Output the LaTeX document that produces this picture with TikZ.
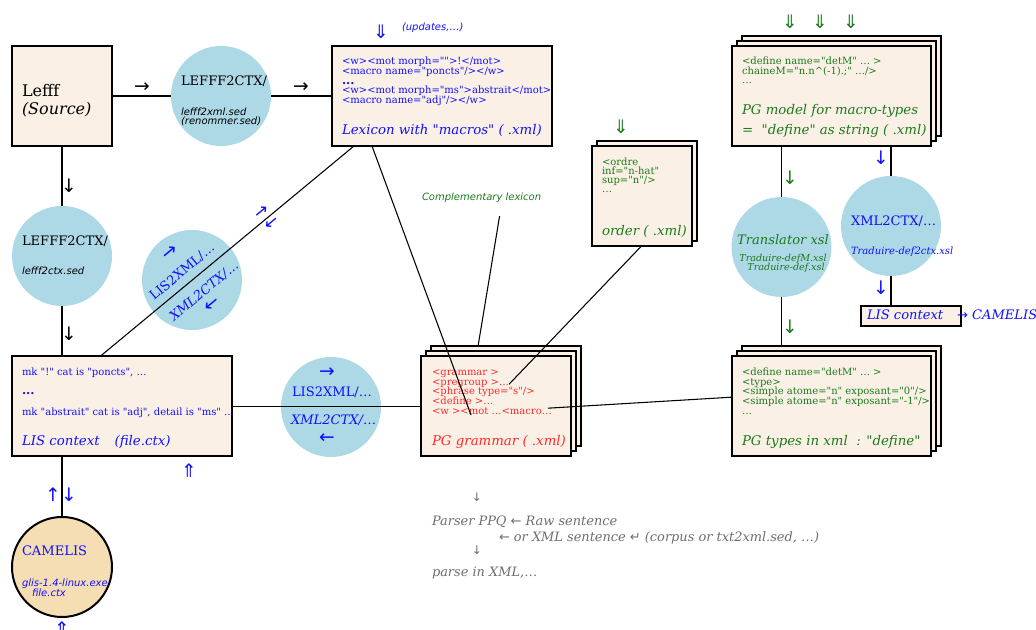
\documentclass[tikz,border=0pt]{standalone}
\usepackage{fontspec}
\setmainfont{DejaVu Serif}[Ligatures=TeXOff]
\setsansfont{DejaVu Sans}[Ligatures=TeXOff]
\usepackage{xcolor}
\definecolor{cpaper}{HTML}{FAF0E6}
\definecolor{ctool}{HTML}{ADD8E6}
\definecolor{ccamel}{HTML}{F5DEB3}
\definecolor{dgreen}{HTML}{1B7A1B}
\definecolor{cblue}{HTML}{1010FF}
\definecolor{cred}{HTML}{FF2A2A}
\definecolor{cnote}{HTML}{6E6E6E}
\usetikzlibrary{shadows}

\newcommand{\fsz}[1]{\fontsize{#1}{#1}\selectfont}
\newcommand{\arw}[1]{{\sffamily\upshape #1}}

\begin{document}
\begin{tikzpicture}[x=0.75pt, y=-0.75pt,
  every node/.style={inner sep=0pt, outer sep=0pt},
  doc/.style={draw, line width=1.5pt, fill=cpaper},
  stack/.style={doc, copy shadow={shadow xshift=7.5pt, shadow yshift=7.5pt}, copy shadow={shadow xshift=3.75pt, shadow yshift=3.75pt}},
  proc/.style={circle, fill=ctool, minimum size=75pt},
  wire/.style={line width=0.8pt},
  txt/.style={anchor=base west},
  codeln/.style={txt, font=\fsz{7.5}},
  boxtitle/.style={txt, font=\fsz{10}\itshape},
  procname/.style={txt, font=\fsz{9.8}},
  smallit/.style={txt, font=\fsz{7.5}\sffamily\itshape},
  glyph/.style={font=\fsz{14}\sffamily}]
  \useasboundingbox (0,0) rectangle (1036,630);

  % Lefff source
  \node[doc, minimum width=75pt, minimum height=75pt] (lefff) at (61.5,96) {};
  \node[txt, font=\fsz{12}] (lefffname) at (22,97) {Lefff};
  \node[txt, font=\fsz{12}\itshape] (lefffsrc) at (22,115) {(Source)};

  % LEFFF2CTX towards the lexicon
  \node[proc] (l2c) at (221,96) {};
  \node[procname] (l2cname) at (181,86) {LEFFF2CTX/};
  \node[smallit] (l2cf1) at (181,116) {lefff2xml.sed};
  \node[smallit] (l2cf2) at (181,125) {(renommer.sed)};
  \node[glyph] (arr1) at (142,88) {→};
  \node[glyph] (arr2) at (301,88) {→};

  % Lexicon with macros
  \node[doc, minimum width=165pt, minimum height=75pt] (lexicon) at (442,96) {};
  \foreach \yb/\lbl [count=\i] in {65/{<w><mot morph="">!</mot>}, 75/{<macro name="poncts"/></w>}, 94/{<w><mot morph="ms">abstrait</mot>}, 104/{<macro name="adj"/></w>}}
    \node[codeln, text=cblue] (lexl-\i) at (342,\yb) {\lbl};
  \node[txt, font=\fsz{9}\bfseries, text=cblue] (lexdots) at (342,85) {...};
  \node[boxtitle, text=cblue] (lextitle) at (342,135) {Lexicon with "macros" ( .xml)};
  \node[glyph, text=cblue] (lexin) at (381,32) {⇓};
  \node[smallit, text=cblue] (updates) at (402,31) {(updates,…)};

  % PG model for macro-types
  \node[stack, minimum width=149.25pt, minimum height=75pt] (pgmodel) at (831.5,96) {};
  \foreach \yb/\lbl [count=\i] in {65/{<define name="detM" … >}, 75/{chaineM="n.n\textasciicircum(-1).;" …/>}, 84/{…}}
    \node[codeln, text=dgreen] (pgml-\i) at (742,\yb) {\lbl};
  \node[boxtitle, text=dgreen] (pgmtitle1) at (742,115) {PG model for macro-types};
  \node[boxtitle, text=dgreen] (pgmtitle2) at (742,135) {=\ \ "define" as string ( .xml)};
  \foreach \xb [count=\i] in {790,820,851}
    \node[glyph, text=dgreen] (pgmin-\i) at (\xb,22) {⇓};

  % order file
  \node[doc, copy shadow={shadow xshift=3.75pt, shadow yshift=3.75pt}, minimum width=75pt, minimum height=75pt] (order) at (641.5,196) {};
  \foreach \yb/\lbl [count=\i] in {166/{<ordre}, 175/{inf="n-hat"}, 184/{sup="n"/>}, 193/{…}}
    \node[codeln, text=dgreen] (ordl-\i) at (602,\yb) {\lbl};
  \node[boxtitle, text=dgreen] (ordtitle) at (602,236) {order ( .xml)};
  \node[glyph, text=dgreen] (ordin) at (621,127) {⇓};

  \node[smallit, text=dgreen] (comp) at (422,201) {Complementary lexicon};

  % Translator xsl
  \node[proc] (trans) at (781.5,247) {};
  \node[font=\fsz{9.8}\itshape, text=dgreen, anchor=base] (transname) at (783,245) {Translator xsl};
  \node[font=\fsz{7.2}\itshape, text=dgreen, anchor=base] (transf1) at (783,262) {Traduire-defM.xsl};
  \node[font=\fsz{7.2}\itshape, text=dgreen, anchor=base] (transf2) at (786,271) {Traduire-def.xsl};
  \node[glyph, text=dgreen] (transin) at (790,178) {↓};
  \node[glyph, text=dgreen] (transout) at (790,327) {↓};

  % XML2CTX for the types
  \node[proc] (x2c) at (891,226) {};
  \node[procname, text=cblue] (x2cname) at (851,226) {XML2CTX/…};
  \node[txt, font=\fsz{7.5}\itshape, text=cblue] (x2cf) at (851,255) {Traduire-def2ctx.xsl};
  \node[glyph, text=cblue] (x2cin) at (881,158) {↓};
  \node[glyph, text=cblue] (x2cout) at (881,288) {↓};
  \node[doc, minimum width=75pt, minimum height=15pt] (lisctx) at (911,316) {};
  \node[txt, font=\fsz{9.8}\itshape, text=cblue] (lisctxname) at (867,320) {LIS context};
  \node[txt, font=\fsz{9.8}\itshape, text=cblue] (tocamelis) at (957,320) {\arw{→} CAMELIS};

  % PG types in xml
  \node[stack, minimum width=149.25pt, minimum height=75pt] (ptypes) at (831.5,406.5) {};
  \foreach \yb/\lbl [count=\i] in {376/{<define name="detM" … >}, 386/{<type>}, 395/{<simple atome="n" exposant="0"/>}, 405/{<simple atome="n" exposant="-1"/>}, 415/{…}}
    \node[codeln, text=dgreen] (ptyl-\i) at (742,\yb) {\lbl};
  \node[boxtitle, text=dgreen] (ptytitle) at (742,446) {PG types in xml\ \ : "define"};

  % PG grammar
  \node[stack, minimum width=112.5pt, minimum height=75pt] (pggram) at (496,406.5) {};
  \foreach \yb/\lbl [count=\i] in {376/{<grammar >}, 386/{<pregroup >…}, 395/{<phrase type="s"/>}, 405/{<define >…}, 415/{<w ><mot …<macro…}}
    \node[codeln, text=cred] (gram-\i) at (432,\yb) {\lbl};
  \node[boxtitle, text=cred] (gramtitle) at (432,446) {PG grammar ( .xml)};

  % LIS context file
  \node[doc, minimum width=165pt, minimum height=75pt] (lis) at (122,406.5) {};
  \node[codeln, text=cblue] (lisl-1) at (22,376) {mk "!" cat is "poncts", …};
  \node[txt, font=\fsz{9}\bfseries, text=cblue] (lisdots) at (22,395) {...};
  \node[codeln, text=cblue] (lisl-2) at (22,416) {mk "abstrait" cat is "adj", detail is "ms" …};
  \node[boxtitle, text=cblue] (listitle) at (22,446) {LIS context\hspace{8pt} (file.ctx)};
  \node[glyph, text=cblue] (lisin) at (189,471) {⇑};

  % LEFFF2CTX towards the context
  \node[proc] (l2c2) at (62,256) {};
  \node[procname] (l2c2name) at (22,246) {LEFFF2CTX/};
  \node[smallit] (l2c2f) at (22,275) {lefff2ctx.sed};
  \node[glyph] (arr3) at (69,186) {↓};
  \node[glyph] (arr4) at (69,334) {↓};

  % LIS2XML / XML2CTX between context and lexicon
  \node[proc] (l2xa) at (192,280) {};
  \node[font=\fsz{9.8}, text=cblue, rotate=40] (l2xaname) at (182,272) {LIS2XML/…};
  \node[font=\fsz{9.8}\itshape, text=cblue, rotate=40] (x2caname) at (204,291) {XML2CTX/…};
  \node[glyph, text=cblue, rotate=40] (l2xaup) at (170,253) {→};
  \node[glyph, text=cblue, rotate=40] (l2xadown) at (212,305) {←};
  \node[font=\fsz{13}\sffamily, text=cblue, rotate=40] (diagup) at (262,212) {→};
  \node[font=\fsz{13}\sffamily, text=cblue, rotate=40] (diagdown) at (272,223) {←};

  % LIS2XML / XML2CTX between context and grammar
  \node[proc] (l2xb) at (331,407) {};
  \node[glyph, text=cblue] (l2xbup) at (327,373) {→};
  \node[procname, text=cblue] (l2xbname) at (292,397) {LIS2XML/…};
  \node[procname, font=\fsz{9.8}\itshape, text=cblue] (x2cbname) at (291,425) {XML2CTX/…};
  \node[glyph, text=cblue] (l2xbdown) at (327,439) {←};

  % CAMELIS
  \node[circle, draw, line width=1.5pt, fill=ccamel, minimum size=75pt] (camel) at (62,567) {};
  \node[procname, text=cblue] (camelname) at (22,556) {CAMELIS};
  \node[smallit, text=cblue] (camelf1) at (22,587) {glis-1.4-linux.exe};
  \node[smallit, text=cblue] (camelf2) at (32,597) {file.ctx};
  \node[glyph, text=cblue] (camelup) at (53,495) {↑};
  \node[glyph, text=cblue] (cameldown) at (69,495) {↓};
  \node[glyph, text=cblue] (camelin) at (62,629) {⇑};

  % parser notes
  \node[font=\fsz{9}\sffamily, text=cnote] (pdown1) at (477,497) {↓};
  \node[txt, font=\fsz{9.7}\itshape, text=cnote] (parser) at (432,526) {Parser PPQ \arw{←} Raw sentence};
  \node[font=\fsz{9}\sffamily, text=cnote] (pdown2) at (477,550) {↓};
  \node[txt, font=\fsz{9.7}\itshape, text=cnote] (xmlsent) at (499,542) {\arw{←} or XML sentence \arw{↵} (corpus or txt2xml.sed, …)};
  \node[txt, font=\fsz{9.7}\itshape, text=cnote] (parsexml) at (432,577) {parse in XML,…};

  % connectors
  \draw[wire] (lefff.east) -- (l2c.west);
  \draw[wire] (l2c.east) -- (lexicon.west);
  \draw[wire] (l2c2.north) -- (l2c2.north |- lefff.south);
  \draw[wire] (l2c2.south) -- (l2c2.south |- lis.north);
  \draw[wire] (camel.north) -- (camel.north |- lis.south);
  \draw[wire] (lis.east) -- (pggram.west);
  \draw[wire] ([xshift=66pt]lis.north west) -- ([xshift=16.5pt]lexicon.south west);
  \draw[wire] ([xshift=30pt]lexicon.south west) -- ([xshift=29.25pt]gram-5.base west);
  \draw[wire] ([xshift=13.5pt,yshift=-9.75pt]comp.south) -- ([xshift=-13.5pt,yshift=7.5pt]pggram.north);
  \draw[wire] (order.south) -- (gram-2.east);
  \draw[wire] ([yshift=7pt]ptypes.west) -- ([xshift=-3pt]gram-5.north east);
  \draw[wire] (trans.north) -- (trans.north |- pgmodel.south);
  \draw[wire] (x2c.north) -- (x2c.north |- pgmodel.south);
  \draw[wire] (trans.south) -- ([yshift=7.5pt]trans.south |- ptypes.north);
  \draw[wire] (x2c.south) -- (x2c.south |- lisctx.north);
\end{tikzpicture}
\end{document}
